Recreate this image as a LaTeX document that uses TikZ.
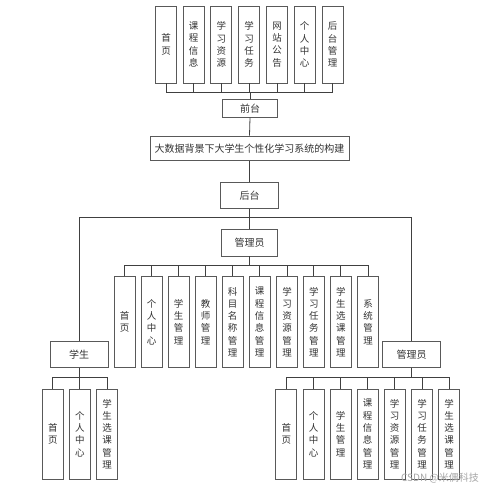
\documentclass[tikz,border=0pt]{standalone}
\usepackage{fontspec}
\newfontfamily\cjk{Noto Sans CJK SC}
\begin{document}
\begin{tikzpicture}[x=1pt,y=-1pt,
  box/.style={draw=black!65,line width=0.8pt,inner sep=0pt,text=black!80,font=\cjk\fontsize{9.5}{12.3}\selectfont,align=center},
  vbox/.style={box,minimum width=21pt,minimum height=#1},
  hbox/.style={box,font=\cjk\fontsize{10}{12}\selectfont},
  conn/.style={draw=black!75,line width=0.8pt}]
\useasboundingbox[fill=white] (0,0) rectangle (499,492);
% top row
\foreach \n/\x/\t in {t1/166/首\\页, t2/193.7/课\\程\\信\\息, t3/221.3/学\\习\\资\\源, t4/249.2/学\\习\\任\\务, t5/277/网\\站\\公\\告, t6/304.7/个\\人\\中\\心, t7/332.5/后\\台\\管\\理}
  \node[vbox=77pt] (\n) at (\x,44.5) {\t};
\node[hbox,minimum width=54.3pt,minimum height=18.3pt] (qt) at (250,108.2) {前台};
\node[hbox,minimum width=199pt,minimum height=24.7pt] (main) at (249.5,148.3) {大数据背景下大学生个性化学习系统的构建};
\node[hbox,minimum width=57.6pt,minimum height=26pt] (ht) at (249.5,195.3) {后台};
\node[hbox,minimum width=56pt,minimum height=26.7pt] (gly) at (249.5,242.7) {管理员};
% admin row
\foreach \n/\x/\t in {a1/124.5/首\\页, a2/151.5/个\\人\\中\\心, a3/178.5/学\\生\\管\\理, a4/205.5/教\\师\\管\\理, a5/232.5/科\\目\\名\\称\\管\\理, a6/259.5/课\\程\\信\\息\\管\\理, a7/287/学\\习\\资\\源\\管\\理, a8/313.8/学\\习\\任\\务\\管\\理, a9/340.8/学\\生\\选\\课\\管\\理, a10/368/系\\统\\管\\理}
  \node[vbox=90.6pt] (\n) at (\x,322) {\t};
\node[hbox,minimum width=58.3pt,minimum height=25.6pt] (xs) at (79.2,354.5) {学生};
\node[hbox,minimum width=58.4pt,minimum height=25.6pt] (gly2) at (411.5,354.5) {管理员};
% bottom left
\foreach \n/\x/\t in {s1/52.8/首\\页, s2/79.8/个\\人\\中\\心, s3/107/学\\生\\选\\课\\管\\理}
  \node[vbox=90pt] (\n) at (\x,434) {\t};
% bottom right
\foreach \n/\x/\t in {r1/286.3/首\\页, r2/313.7/个\\人\\中\\心, r3/340.7/学\\生\\管\\理, r4/367.7/课\\程\\信\\息\\管\\理, r5/394.7/学\\习\\资\\源\\管\\理, r6/422/学\\习\\任\\务\\管\\理, r7/449/学\\生\\选\\课\\管\\理}
  \node[vbox=90pt] (\n) at (\x,434) {\t};
% buses
\coordinate (bus1) at (250,92.7);
\coordinate (bus3) at (249.5,265);
\coordinate (bus4) at (79.2,377.3);
\coordinate (bus5) at (411.5,377.3);
\coordinate (bl) at (79.2,217.7);
\coordinate (br) at (411.5,217.7);
% top connectors
\draw[conn] (t1.south |- bus1) -- (t7.south |- bus1);
\foreach \n in {t1,t2,t3,t4,t5,t6,t7} \draw[conn] (\n.south) -- (\n.south |- bus1);
\draw[conn] (qt.north) -- (bus1);
\draw[conn] (qt.south) -- (main.north);
\draw[conn] (main.south) -- (ht.north);
\draw[conn] (ht.south) -- (gly.north);
\draw[conn] (bl) -- (br);
\draw[conn] (bl) -- (xs.north);
\draw[conn] (br) -- (gly2.north);
% admin connectors
\draw[conn] (gly.south) -- (bus3);
\draw[conn] (a1.north |- bus3) -- (a10.north |- bus3);
\foreach \n in {a1,a2,a3,a4,a5,a6,a7,a8,a9,a10} \draw[conn] (\n.north) -- (\n.north |- bus3);
% student connectors
\draw[conn] (xs.south) -- (bus4);
\draw[conn] (s1.north |- bus4) -- (s3.north |- bus4);
\foreach \n in {s1,s2,s3} \draw[conn] (\n.north) -- (\n.north |- bus4);
% admin2 connectors
\draw[conn] (gly2.south) -- (bus5);
\draw[conn] (r1.north |- bus5) -- (r7.north |- bus5);
\foreach \n in {r1,r2,r3,r4,r5,r6,r7} \draw[conn] (\n.north) -- (\n.north |- bus5);
% watermark
\node[text=black!35,font=\cjk\fontsize{10}{12}\selectfont,inner sep=0pt] (wm) at (440,478.3) {CSDN @米偶科技};
\end{tikzpicture}
\end{document}
